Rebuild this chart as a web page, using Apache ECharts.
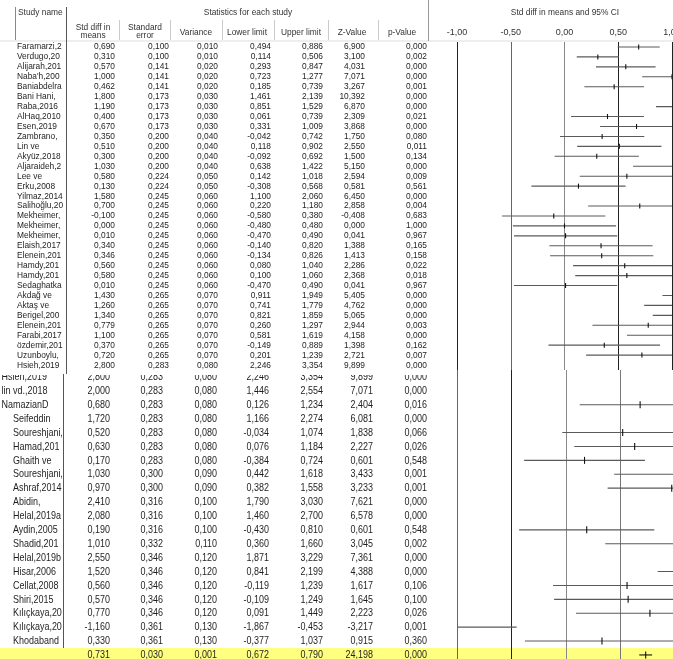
<!DOCTYPE html>
<html>
<head>
<meta charset="utf-8">
<script src="https://cdn.jsdelivr.net/npm/echarts@6/dist/echarts.min.js"></script>
<style>
  html, body { margin: 0; padding: 0; background: #fff; }
  #chart { width: 673px; height: 659px; }
</style>
</head>
<body>
<div id="chart"></div>
<script>
// ---- Upper block of studies (compact rows) ----
const upperNames = ['Faramarzi,2', 'Verdugo,20', 'Alijarah,201', "Naba'h,200", 'Baniabdelra', 'Bani Hani,', 'Raba,2016',
  'AlHaq,2010', 'Esen,2019', 'Zambrano,', 'Lin ve', 'Akyüz,2018', 'Aljaraideh,2', 'Lee ve', 'Erku,2008', 'Yilmaz,2014',
  'Salihoğlu,20', 'Mekheimer,', 'Mekheimer,', 'Mekheimer,', 'Elaish,2017', 'Elenein,201', 'Hamdy,201', 'Hamdy,201',
  'Sedaghatka', 'Akdağ ve', 'Aktaş ve', 'Berigel,200', 'Elenein,201', 'Farabi,2017', 'özdemir,201', 'Uzunboylu,', 'Hsieh,2019'];
const upperMean = [0.690, 0.310, 0.570, 1.000, 0.462, 1.800, 1.190, 0.400, 0.670, 0.350, 0.510, 0.300, 1.030, 0.580, 0.130, 1.580,
  0.700, -0.100, 0.000, 0.010, 0.340, 0.346, 0.560, 0.580, 0.010, 1.430, 1.260, 1.340, 0.779, 1.100, 0.370, 0.720, 2.800];
const upperSE = [0.100, 0.100, 0.141, 0.141, 0.141, 0.173, 0.173, 0.173, 0.173, 0.200, 0.200, 0.200, 0.200, 0.224, 0.224, 0.245,
  0.245, 0.245, 0.245, 0.245, 0.245, 0.245, 0.245, 0.245, 0.245, 0.265, 0.265, 0.265, 0.265, 0.265, 0.265, 0.265, 0.283];
const upperVar = [0.010, 0.010, 0.020, 0.020, 0.020, 0.030, 0.030, 0.030, 0.030, 0.040, 0.040, 0.040, 0.040, 0.050, 0.050, 0.060,
  0.060, 0.060, 0.060, 0.060, 0.060, 0.060, 0.060, 0.060, 0.060, 0.070, 0.070, 0.070, 0.070, 0.070, 0.070, 0.070, 0.080];
const upperLow = [0.494, 0.114, 0.293, 0.723, 0.185, 1.461, 0.851, 0.061, 0.331, -0.042, 0.118, -0.092, 0.638, 0.142, -0.308, 1.100,
  0.220, -0.580, -0.480, -0.470, -0.140, -0.134, 0.080, 0.100, -0.470, 0.911, 0.741, 0.821, 0.260, 0.581, -0.149, 0.201, 2.246];
const upperHigh = [0.886, 0.506, 0.847, 1.277, 0.739, 2.139, 1.529, 0.739, 1.009, 0.742, 0.902, 0.692, 1.422, 1.018, 0.568, 2.060,
  1.180, 0.380, 0.480, 0.490, 0.820, 0.826, 1.040, 1.060, 0.490, 1.949, 1.779, 1.859, 1.297, 1.619, 0.889, 1.239, 3.354];
const upperZ = [6.900, 3.100, 4.031, 7.071, 3.267, 10.392, 6.870, 2.309, 3.868, 1.750, 2.550, 1.500, 5.150, 2.594, 0.581, 6.450,
  2.858, -0.408, 0.000, 0.041, 1.388, 1.413, 2.286, 2.368, 0.041, 5.405, 4.762, 5.065, 2.944, 4.158, 1.398, 2.721, 9.899];
const upperP = [0.000, 0.002, 0.000, 0.000, 0.001, 0.000, 0.000, 0.021, 0.000, 0.080, 0.011, 0.134, 0.000, 0.009, 0.561, 0.000,
  0.004, 0.683, 1.000, 0.967, 0.165, 0.158, 0.022, 0.018, 0.967, 0.000, 0.000, 0.000, 0.003, 0.000, 0.162, 0.007, 0.000];

// ---- Lower block of studies (taller rows) ----
const lowerNames = ['Hsieh,2019', 'lin vd.,2018', 'NamazianD', 'Seifeddin', 'Soureshjani,', 'Hamad,201', 'Ghaith ve',
  'Soureshjani,', 'Ashraf,2014', 'Abidin,', 'Helal,2019a', 'Aydin,2005', 'Shadid,201', 'Helal,2019b', 'Hisar,2006',
  'Cellat,2008', 'Shiri,2015', 'Kılıçkaya,20', 'Kılıçkaya,20', 'Khodaband'];
const lowerMean = [2.800, 2.000, 0.680, 1.720, 0.520, 0.630, 0.170, 1.030, 0.970, 2.410, 2.080, 0.190, 1.010, 2.550, 1.520,
  0.560, 0.570, 0.770, -1.160, 0.330];
const lowerSE = [0.283, 0.283, 0.283, 0.283, 0.283, 0.283, 0.283, 0.300, 0.300, 0.316, 0.316, 0.316, 0.332, 0.346, 0.346,
  0.346, 0.346, 0.346, 0.361, 0.361];
const lowerVar = [0.080, 0.080, 0.080, 0.080, 0.080, 0.080, 0.080, 0.090, 0.090, 0.100, 0.100, 0.100, 0.110, 0.120, 0.120,
  0.120, 0.120, 0.120, 0.130, 0.130];
const lowerLow = [2.246, 1.446, 0.126, 1.166, -0.034, 0.076, -0.384, 0.442, 0.382, 1.790, 1.460, -0.430, 0.360, 1.871, 0.841,
  -0.119, -0.109, 0.091, -1.867, -0.377];
const lowerHigh = [3.354, 2.554, 1.234, 2.274, 1.074, 1.184, 0.724, 1.618, 1.558, 3.030, 2.700, 0.810, 1.660, 3.229, 2.199,
  1.239, 1.249, 1.449, -0.453, 1.037];
const lowerZ = [9.899, 7.071, 2.404, 6.081, 1.838, 2.227, 0.601, 3.433, 3.233, 7.621, 6.578, 0.601, 3.045, 7.361, 4.388,
  1.617, 1.645, 2.223, -3.217, 0.915];
const lowerP = [0.000, 0.000, 0.016, 0.000, 0.066, 0.026, 0.548, 0.001, 0.001, 0.000, 0.000, 0.548, 0.002, 0.000, 0.000,
  0.106, 0.100, 0.026, 0.001, 0.360];

// ---- Pooled estimate ----
const pooledName = '';
const pooledMean = 0.731;
const pooledSE = 0.030;
const pooledVar = 0.001;
const pooledLow = 0.672;
const pooledHigh = 0.790;
const pooledZ = 24.198;
const pooledP = 0.000;

// ---- Axis of the effect plot ----
const axisMin = -1;
const axisMax = 1;
const axisStep = 0.5;

// ---------------------------------------------------------------------
const fmt3 = v => v.toFixed(3).replace('.', ',');
const fmt2 = v => v.toFixed(2).replace('.', ',');

function buildRows(names, mean, se, vr, lo, hi, z, p) {
  return names.map((n, i) => ({ name: n, vals: [mean[i], se[i], vr[i], lo[i], hi[i], z[i], p[i]], lo: lo[i], hi: hi[i], mean: mean[i] }));
}
const upperRows = buildRows(upperNames, upperMean, upperSE, upperVar, upperLow, upperHigh, upperZ, upperP);
const lowerRows = buildRows(lowerNames, lowerMean, lowerSE, lowerVar, lowerLow, lowerHigh, lowerZ, lowerP);
lowerRows.push({ name: pooledName, vals: [pooledMean, pooledSE, pooledVar, pooledLow, pooledHigh, pooledZ, pooledP],
  lo: pooledLow, hi: pooledHigh, mean: pooledMean, pooled: true });

// layout
const W = 673;
const upperTop = 42, upperStep = 9.94;
const lowerTop = 370, lowerStep = 13.9;
const upperFont = '9px "Liberation Sans", Arial, sans-serif';
const lowerFont = '11.5px "Liberation Sans", Arial, sans-serif';
const upperScaleX = 0.93;
const lowerScaleX = 0.78;
const upperCols = { name: 17, nums: [115, 169, 218, 271, 323, 365, 427] };
const lowerCols = { name: 13, nameWide: 1.5, nums: [110, 163, 217, 269, 323, 373, 427] };
const textColor = '#1e1e1e';

function textEl(str, x, y, align, font, sx) {
  return { type: 'text', x: x, y: y, scaleX: sx, scaleY: 1,
    style: { text: str, x: 0, y: 0, align: align, verticalAlign: 'middle', font: font, fill: textColor } };
}

function tableItem(rows, cols, font, sx, isLower) {
  return function (params, api) {
    const i = api.value(1);
    const r = rows[i];
    const y = api.coord([0, i])[1];
    const kids = [];
    if (r.pooled) {
      const y0 = api.coord([0, i - 0.5])[1];
      const y1 = api.coord([0, i + 0.5])[1];
      kids.push({ type: 'rect', shape: { x: 0, y: y0, width: W, height: y1 - y0 + 2 }, style: { fill: '#ffff80' }, z2: -1 });
    }
    const nameX = (isLower && i <= 2) ? cols.nameWide : cols.name;
    if (r.name) kids.push(textEl(r.name, nameX, y, 'left', font, sx));
    r.vals.forEach((v, k) => kids.push(textEl(fmt3(v), cols.nums[k], y, 'right', font, sx)));
    return { type: 'group', children: kids };
  };
}

function forestItem(rows, halfTick) {
  return function (params, api) {
    const i = api.value(1);
    const r = rows[i];
    const a = api.coord([api.value(0), i]);
    const b = api.coord([api.value(2), i]);
    const m = api.coord([api.value(3), i]);
    const col = r.pooled ? '#111' : '#5a5a5a';
    return { type: 'group', children: [
      { type: 'line', shape: { x1: a[0], y1: a[1], x2: b[0], y2: b[1] }, style: { stroke: col, lineWidth: 1.1 } },
      { type: 'line', shape: { x1: m[0], y1: m[1] - halfTick, x2: m[0], y2: m[1] + halfTick }, style: { stroke: '#111', lineWidth: 1.1 } }
    ] };
  };
}

const chart = echarts.init(document.getElementById('chart'), null, { renderer: 'canvas' });

const headFont = '9px "Liberation Sans", Arial, sans-serif';
const headColor = '#333';
function headText(str, x, y, align) {
  return { type: 'text', x: x, y: y, z: 8, scaleX: upperScaleX, scaleY: 1,
    style: { text: str, x: 0, y: 0, align: align || 'center', verticalAlign: 'middle', font: headFont, fill: headColor } };
}
function vline(x, y1, y2, color) {
  return { type: 'line', z: 7, shape: { x1: x, y1: y1, x2: x, y2: y2 }, style: { stroke: color, lineWidth: 1 } };
}

const option = {
  animation: false,
  backgroundColor: '#fff',
  grid: [
    { left: 457, width: 215, top: upperTop, height: upperRows.length * upperStep, outerBoundsMode: 'none' },
    { left: 457, width: 218, top: lowerTop, height: lowerRows.length * lowerStep, outerBoundsMode: 'none' }
  ],
  xAxis: [
    { gridIndex: 0, type: 'value', min: axisMin, max: axisMax, interval: axisStep, position: 'top',
      axisLine: { show: false }, axisTick: { show: false },
      axisLabel: { show: true, margin: 5, formatter: v => fmt2(v), fontSize: 9, color: '#333',
        fontFamily: '"Liberation Sans", Arial, sans-serif', showMinLabel: true, showMaxLabel: true,
        alignMinLabel: 'center', alignMaxLabel: 'center', hideOverlap: false },
      splitLine: { show: true, lineStyle: { color: ['#222', '#666', '#888', '#222', '#222'], width: 1 } } },
    { gridIndex: 1, type: 'value', min: axisMin, max: axisMax, interval: axisStep,
      axisLine: { show: false }, axisTick: { show: false }, axisLabel: { show: false },
      splitLine: { show: true, lineStyle: { color: ['#666', '#222', '#888', '#777', '#444'], width: 1 } } }
  ],
  yAxis: [
    { gridIndex: 0, type: 'value', inverse: true, min: -0.5, max: upperRows.length - 0.5, show: false },
    { gridIndex: 1, type: 'value', inverse: true, min: -0.5, max: lowerRows.length - 0.5, show: false }
  ],
  series: [
    { type: 'custom', xAxisIndex: 0, yAxisIndex: 0, z: 10, clip: false, silent: true,
      data: upperRows.map((r, i) => [0, i]), renderItem: tableItem(upperRows, upperCols, upperFont, upperScaleX, false) },
    { type: 'custom', xAxisIndex: 1, yAxisIndex: 1, z: -1, clip: false, silent: true,
      data: lowerRows.map((r, i) => [0, i]), renderItem: tableItem(lowerRows, lowerCols, lowerFont, lowerScaleX, true) },
    { type: 'custom', xAxisIndex: 0, yAxisIndex: 0, z: 9, clip: true, silent: true,
      encode: { x: [0, 2, 3], y: 1 },
      data: upperRows.map((r, i) => [r.lo, i, r.hi, r.mean]), renderItem: forestItem(upperRows, 2.5) },
    { type: 'custom', xAxisIndex: 1, yAxisIndex: 1, z: 9, clip: true, silent: true,
      encode: { x: [0, 2, 3], y: 1 },
      data: lowerRows.map((r, i) => [r.lo, i, r.hi, r.mean]), renderItem: forestItem(lowerRows, 3.5) }
  ],
  graphic: [
    // mask where the two row blocks meet
    { type: 'rect', z: 5, shape: { x: 0, y: 360, width: 440, height: 15 }, style: { fill: '#fff' } },
    // header band bottom
    { type: 'rect', z: 4, shape: { x: 0, y: 40, width: W, height: 2 }, style: { fill: '#eeeeee' } },
    headText('Study name', 18, 13, 'left'),
    headText('Statistics for each study', 248, 13),
    headText('Std diff in means and 95% CI', 565, 13),
    headText('Std diff in', 93, 28), headText('means', 93, 36),
    headText('Standard', 145, 28), headText('error', 145, 36),
    headText('Variance', 196, 33),
    headText('Lower limit', 247, 33),
    headText('Upper limit', 301, 33),
    headText('Z-Value', 352, 33),
    headText('p-Value', 402, 33),
    vline(15.5, 7, 40, '#888'),
    vline(66.5, 7, 374, '#555'),
    vline(63.5, 374, 648, '#555'),
    vline(428.5, 0, 41, '#999'),
    vline(119.5, 20, 40, '#ccc'), vline(170.5, 20, 40, '#ccc'), vline(222.5, 20, 40, '#ccc'),
    vline(274.5, 20, 40, '#ccc'), vline(328.5, 20, 40, '#ccc'), vline(378.5, 20, 40, '#ccc')
  ]
};

chart.setOption(option);
</script>
</body>
</html>
